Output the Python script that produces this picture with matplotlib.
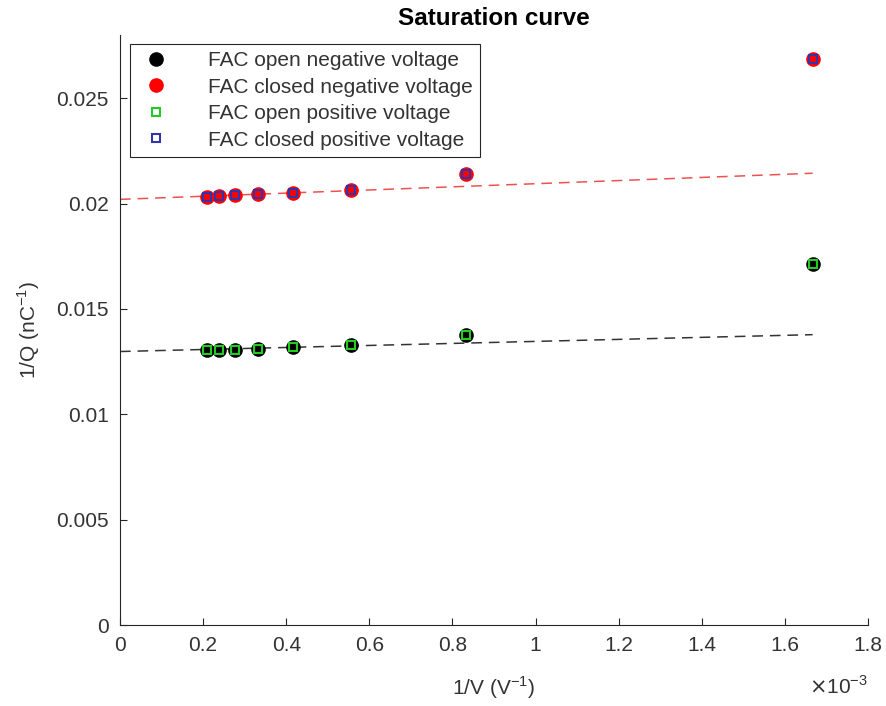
import matplotlib
matplotlib.use("Agg")
import matplotlib.pyplot as plt
from matplotlib.ticker import FuncFormatter, MultipleLocator

# 1/V in V^-1 (V = 4800 ... 600 V)
inv_v = [0.0002083, 0.0002381, 0.0002778, 0.0003333, 0.0004167, 0.0005556, 0.0008333, 0.0016667]

# 1/Q in nC^-1
open_neg = [0.01307, 0.01307, 0.01307, 0.01312, 0.01318, 0.01331, 0.01374, 0.01711]
closed_neg = [0.02033, 0.02036, 0.02039, 0.02044, 0.02052, 0.02064, 0.02139, 0.02688]
open_pos = [0.01307, 0.01307, 0.01307, 0.01312, 0.01318, 0.01331, 0.01374, 0.01711]
closed_pos = [0.02033, 0.02036, 0.02039, 0.02044, 0.02052, 0.02064, 0.02139, 0.02688]

# fitted lines at both ends
fit_x = [0.0, 0.0016667]
fit_open = [0.01298, 0.01378]
fit_closed = [0.02020, 0.02144]

plt.rcParams['font.family'] = ['Liberation Sans', 'DejaVu Sans']
fs = 15
txt = '#333333'

fig = plt.figure(figsize=(8.86, 7.06), dpi=100)
ax = fig.add_axes([0.1354, 0.1147, 0.8443, 0.8357])

ax.plot(fit_x, fit_closed, linestyle=(0, (7, 4.5)), color='#f05050', lw=1.1, zorder=1)
ax.plot(fit_x, fit_open, linestyle=(0, (7, 4.5)), color='#333333', lw=1.1, zorder=1)

ax.plot(inv_v, open_neg, 'o', color='black', ms=9.5, mec='black', ls='none',
        label='FAC open negative voltage', zorder=2)
ax.plot(inv_v, closed_neg, 'o', color='red', ms=9.5, mec='red', ls='none',
        label='FAC closed negative voltage', zorder=2)
ax.plot(inv_v, open_pos, 's', mfc='none', mec='#22cc22', ms=6.2, mew=1.5, ls='none',
        label='FAC open positive voltage', zorder=3)
ax.plot(inv_v, closed_pos, 's', mfc='none', mec='#3333aa', ms=6.2, mew=1.5, ls='none',
        label='FAC closed positive voltage', zorder=3)

ax.set_xlim(0, 0.0018)
ax.set_ylim(0, 0.028)
ax.xaxis.set_major_locator(MultipleLocator(0.0002))
ax.yaxis.set_major_locator(MultipleLocator(0.005))
ax.xaxis.set_major_formatter(FuncFormatter(lambda v, p: f"{round(v * 1e3, 4):g}"))
ax.yaxis.set_major_formatter(FuncFormatter(lambda v, p: f"{round(v, 4):g}"))

for s in ['top', 'right']:
    ax.spines[s].set_visible(False)
for s in ['left', 'bottom']:
    ax.spines[s].set_color('#262626')
    ax.spines[s].set_linewidth(0.8)
ax.tick_params(direction='in', length=5, width=0.8, colors='#262626',
               labelsize=fs, labelcolor=txt, pad=8)

ax.set_xlabel('1/V (V$^{\\mathregular{-1}}$)', fontsize=fs, color=txt, labelpad=14)
ax.set_ylabel('1/Q (nC$^{\\mathregular{-1}}$)', fontsize=fs, color=txt, labelpad=10)
ax.text(1.0, -0.105, r'$\times$10$^{\mathregular{-3}}$', transform=ax.transAxes,
        ha='right', va='center', fontsize=fs, color=txt)
ax.set_title('Saturation curve', fontsize=17.5, fontweight='bold', pad=7)

leg = ax.legend(loc='upper left', bbox_to_anchor=(0.013, 0.985), borderaxespad=0,
                fontsize=fs, fancybox=False, framealpha=1, edgecolor='#262626',
                handletextpad=1.6, labelspacing=0.36, borderpad=0.35, handlelength=1.8)
leg.get_frame().set_linewidth(0.8)
for t in leg.get_texts():
    t.set_color(txt)

fig.savefig('out.png', dpi=100)
